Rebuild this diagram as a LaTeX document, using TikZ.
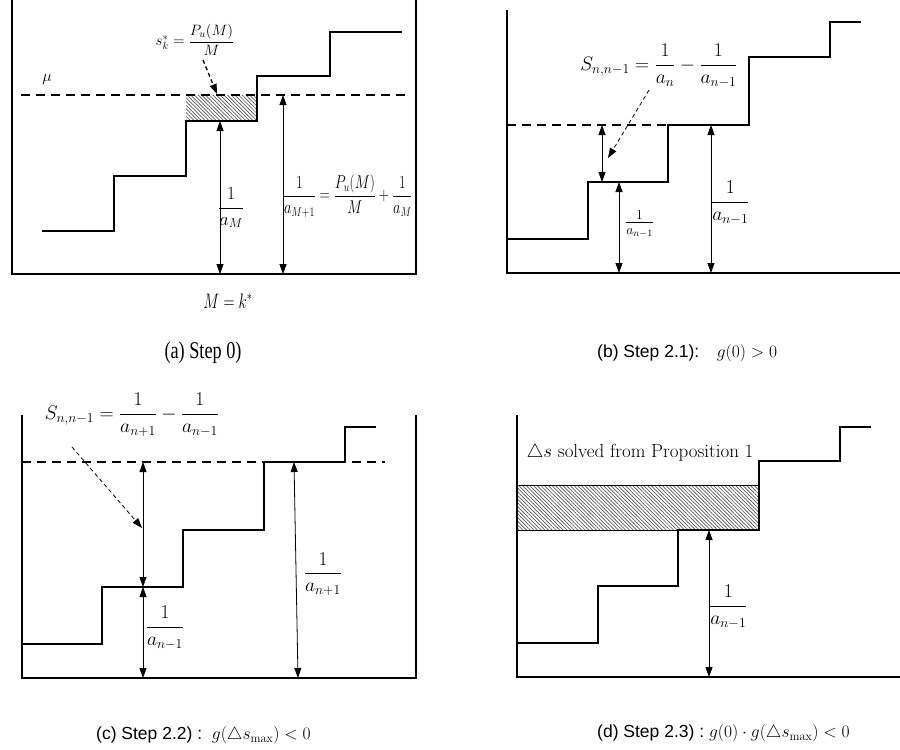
\RequirePackage{fix-cm}
\documentclass[tikz,border=0pt]{standalone}
\usepackage{amsmath}
\usepackage{graphicx}
\usepackage{fontspec}
\newfontfamily\capsans{Liberation Sans}
\newfontfamily\capserif{Liberation Serif}
\usetikzlibrary{arrows.meta,patterns.meta}
\tikzset{
  lab/.style={font=\fontsize{19.5}{23}\selectfont, inner sep=0pt},
  laba/.style={font=\fontsize{18.5}{22}\selectfont, inner sep=0pt},
  capserifstyle/.style={font=\capserif\fontsize{24}{28}\selectfont, inner sep=0pt},
  capsansstyle/.style={font=\capsans\fontsize{17.5}{21}\selectfont, inner sep=0pt},
  wall/.style={line width=2.5pt, line join=miter},
  stair/.style={line width=2.5pt, line join=miter},
  mudash/.style={line width=2.5pt, dash pattern=on 9pt off 6pt},
  dim/.style={line width=0.8pt, {Triangle[length=10pt,width=7pt]}-{Triangle[length=10pt,width=7pt]}},
  hint/.style={line width=0.8pt, dash pattern=on 4pt off 3pt, -{Triangle[length=10pt,width=7pt]}},
  hatch/.style={pattern={Lines[angle=-45,distance=2.6pt,line width=0.7pt]}, pattern color=black!65},
}
\begin{document}
\begin{tikzpicture}[x=1pt,y=-1pt]
\useasboundingbox (0,0) rectangle (900,750);
% ================= (a) =================
\fill[hatch] (186,95) rectangle (257,121);
\draw[wall] (12,0) -- (12,274) -- (416,274) -- (416,0);
\draw[mudash] (21,95) -- (409,95);
\draw[stair] (42,231) -- (114,231) -- (114,176) -- (186,176) -- (186,121) -- (257,121) -- (257,76) -- (330,76) -- (330,32) -- (402,32);
\node[font=\fontsize{16}{19}\selectfont] (mua) at (47,80) {$\mu$};
\node[font=\fontsize{15}{18}\selectfont, inner sep=0pt] (sk) at (195,40) {$s_k^*=\dfrac{P_u(M)}{M}$};
\coordinate (ska) at (203,60);
\coordinate (skb) at (217,94);
\draw[hint, line width=1.3pt] (ska) -- (skb);
\coordinate (a1t) at (220,121);
\coordinate (a1b) at (220,274);
\draw[dim] (a1t) -- (a1b);
\node[laba, anchor=west] (aM) at (218,208) {$\dfrac{1}{a_M}$};
\coordinate (a2t) at (283,95);
\coordinate (a2b) at (283,274);
\draw[dim] (a2t) -- (a2b);
\node[laba, anchor=west] (aM1) at (283,196) {\scalebox{0.77}[1]{$\dfrac{1}{a_{M+1}}=\dfrac{P_u(M)}{M}+\dfrac{1}{a_M}$}};
\node[font=\fontsize{21}{24}\selectfont, inner sep=0pt] (Mk) at (228,301) {\scalebox{0.72}[1]{$M=k^*$}};
\node[capserifstyle] (capa) at (203,353) {\scalebox{0.76}[1]{(a) Step 0)}};
% ================= (b) =================
\draw[wall] (507,10) -- (507,273) -- (900,273);
\draw[mudash] (507,125) -- (668,125);
\draw[stair] (507,239) -- (588,239) -- (588,182) -- (668,182) -- (668,125) -- (749,125) -- (749,57) -- (830,57) -- (830,22) -- (861,22);
\node[lab] (Sb) at (659,66) {$S_{n,n-1}=\dfrac{1}{a_n}-\dfrac{1}{a_{n-1}}$};
\coordinate (hb1) at (649,90);
\coordinate (hb2) at (608,158);
\draw[hint] (hb1) -- (hb2);
\coordinate (b1t) at (602,125);
\coordinate (b1b) at (602,182);
\draw[dim] (b1t) -- (b1b);
\coordinate (b2t) at (619,182);
\coordinate (b2b) at (619,273);
\draw[dim] (b2t) -- (b2b);
\node[lab, anchor=west] (bsm) at (625,224) {$\frac{1}{a_{n-1}}$};
\coordinate (b3t) at (711,125);
\coordinate (b3b) at (711,273);
\draw[dim] (b3t) -- (b3b);
\node[lab, anchor=west] (bbig) at (711,203) {$\dfrac{1}{a_{n-1}}$};
\node[capsansstyle, anchor=west] (capb) at (597,353) {(b) Step 2.1):\quad $g(0)>0$};
% ================= (c) =================
\draw[wall] (22,415) -- (22,678) -- (416,678) -- (416,415);
\draw[mudash] (22,462) -- (385,462);
\draw[stair] (22,644) -- (102,644) -- (102,587) -- (183,587) -- (183,530) -- (264,530) -- (264,462) -- (345,462) -- (345,427) -- (376,427);
\node[lab] (Sc) at (132,415) {$S_{n,n-1}=\dfrac{1}{a_{n+1}}-\dfrac{1}{a_{n-1}}$};
\coordinate (hc1) at (72,447);
\coordinate (hc2) at (142,528);
\draw[hint] (hc1) -- (hc2);
\coordinate (c1t) at (143,462);
\coordinate (c1m) at (143,587);
\coordinate (c1b) at (143,678);
\draw[dim] (c1t) -- (c1m);
\draw[dim] (c1m) -- (c1b);
\node[lab] (cl1) at (165,628) {$\dfrac{1}{a_{n-1}}$};
\coordinate (c2t) at (294,462);
\coordinate (c2b) at (298,678);
\draw[dim] (c2t) -- (c2b);
\node[lab] (cl2) at (323,574) {$\dfrac{1}{a_{n+1}}$};
\node[capsansstyle, anchor=west] (capc) at (96,735) {(c) Step 2.2) :\ \ $g(\triangle s_{\max})<0$};
% ================= (d) =================
\fill[hatch] (517,485) rectangle (759,530);
\draw[line width=0.8pt] (517,485) -- (759,485);
\draw[wall] (517,415) -- (517,677) -- (900,677);
\draw[stair] (517,643) -- (598,643) -- (598,586) -- (678,586) -- (678,530) -- (759,530) -- (759,461) -- (840,461) -- (840,427) -- (871,427);
\draw[line width=0.8pt] (517,530) -- (678,530);
\node[font=\fontsize{19}{22}\selectfont, inner sep=0pt] (dtxt) at (640,453) {$\triangle s$ solved from Proposition 1};
\coordinate (d1t) at (709,530);
\coordinate (d1b) at (709,677);
\draw[dim] (d1t) -- (d1b);
\node[lab, anchor=west] (dl) at (709,607) {$\dfrac{1}{a_{n-1}}$};
\node[capsansstyle, anchor=west] (capd) at (597,733) {(d) Step 2.3) :\ $g(0)\cdot g(\triangle s_{\max})<0$};
\end{tikzpicture}
\end{document}
